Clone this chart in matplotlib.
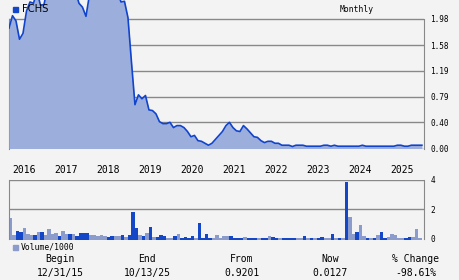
import numpy as np
import matplotlib.pyplot as plt
from matplotlib.transforms import blended_transform_factory

# monthly closes, Dec 2015 .. Oct 2025 (values above ~2.27 are off the chart)
price = [1.84, 2.03, 1.95, 1.67, 1.76, 2.10, 2.24, 2.22, 2.40, 2.19, 2.20, 2.45,
         2.60, 2.80, 2.70, 2.90, 2.80, 2.60, 2.50, 2.40, 2.22, 2.16, 2.02, 2.35,
         2.60, 2.90, 3.00, 2.80, 2.70, 2.60, 2.50, 2.40, 2.24, 2.25, 2.00, 1.32,
         0.67, 0.82, 0.76, 0.81, 0.59, 0.58, 0.53, 0.41, 0.38, 0.38, 0.40, 0.32,
         0.35, 0.35, 0.32, 0.26, 0.18, 0.20, 0.12, 0.11, 0.08, 0.05, 0.08, 0.14,
         0.20, 0.26, 0.35, 0.40, 0.32, 0.27, 0.26, 0.35, 0.30, 0.24, 0.18, 0.17,
         0.12, 0.09, 0.11, 0.11, 0.08, 0.08, 0.05, 0.05, 0.05, 0.03, 0.05, 0.05,
         0.05, 0.035, 0.035, 0.035, 0.035, 0.035, 0.05, 0.05, 0.035, 0.05, 0.035, 0.035,
         0.035, 0.035, 0.035, 0.035, 0.035, 0.05, 0.035, 0.035, 0.035, 0.035, 0.035, 0.035,
         0.035, 0.035, 0.035, 0.05, 0.05, 0.035, 0.035, 0.05, 0.05, 0.05, 0.05]

# volume / 1000 and whether the bar is dark (B) or light (L)
volume = [1.41, 0.23, 0.50, 0.45, 0.72, 0.31, 0.23, 0.27, 0.41, 0.41, 0.27, 0.64,
          0.32, 0.36, 0.18, 0.50, 0.30, 0.30, 0.30, 0.18, 0.35, 0.35, 0.35, 0.23,
          0.23, 0.18, 0.23, 0.14, 0.10, 0.16, 0.16, 0.16, 0.23, 0.10, 0.23, 1.80,
          0.70, 0.23, 0.16, 0.36, 0.77, 0.10, 0.10, 0.23, 0.16, 0.05, 0.05, 0.16,
          0.30, 0.02, 0.10, 0.02, 0.16, 0.05, 1.05, 0.02, 0.30, 0.03, 0.03, 0.23,
          0.03, 0.16, 0.16, 0.16, 0.05, 0.05, 0.05, 0.10, 0.05, 0.05, 0.05, 0.05,
          0.05, 0.05, 0.16, 0.10, 0.02, 0.03, 0.05, 0.05, 0.05, 0.05, 0.05, 0.05,
          0.16, 0.05, 0.02, 0.05, 0.05, 0.10, 0.03, 0.03, 0.30, 0.05, 0.02, 0.05,
          3.86, 1.45, 0.30, 0.41, 0.90, 0.16, 0.03, 0.05, 0.03, 0.23, 0.41, 0.02,
          0.10, 0.30, 0.23, 0.03, 0.03, 0.05, 0.10, 0.10, 0.65, 0.05]
vol_kind = ("LLBBLLLBLBLL" "LLBLLBLBBBBL" "LLLLBBLLBLBB" "BLBLBLBBBLLB"
            "LBBBBLBBBBLL" "LLLBBBBLBBBL" "BBLBBLBBBBLL" "BLBLBBLLBLBL"
            "BLLBLLBLBLBB" "LLLLLBBLLL")

price_ticks = [0.00, 0.40, 0.79, 1.19, 1.58, 1.98]
vol_ticks = [0, 2, 4]
years = ['2016', '2017', '2018', '2019', '2020', '2021', '2022', '2023', '2024', '2025']
stat_names = ['Begin', 'End', 'From', 'Now', '% Change']
stat_values = ['12/31/15', '10/13/25', '0.9201', '0.0127', '-98.61%']

W, H = 460, 280
bg = '#f3f3f3'
grid = '#888888'
dark = '#1446c8'
light = '#8a9bcc'
mono = 'DejaVu Sans Mono'

fig = plt.figure(figsize=(W / 100, H / 100), dpi=100)
fig.patch.set_facecolor(bg)

def fx(x):
    return x / W

def fy(y):
    return 1 - y / H

# price panel
ax = fig.add_axes([fx(9), fy(148.5), fx(415), 148.5 / H])
ax.set_facecolor('none')
m = np.arange(len(price))
for v in price_ticks:
    ax.axhline(v, color=grid, lw=1, zorder=0)
ax.fill_between(m, price, color='#9caedc', lw=0, zorder=1)
ax.plot(m, price, color='#1144cc', lw=1.2, zorder=2)
ax.set_xlim(0, 118.6)
ax.set_ylim(0, 2.27)
for s in ['top', 'bottom']:
    ax.spines[s].set_visible(False)
for s in ['left', 'right']:
    ax.spines[s].set_bounds(0, 1.98)
    ax.spines[s].set_color(grid)
    ax.spines[s].set_zorder(0)
ax.set_xticks([])
ax.yaxis.tick_right()
ax.set_yticks(price_ticks)
ax.set_yticklabels(['%.2f' % v for v in price_ticks], family=mono, fontsize=5.6)
ax.tick_params(axis='y', length=0, pad=4.5)

# volume panel
ax2 = fig.add_axes([fx(9), fy(240), fx(415), 60.3 / H])
ax2.set_facecolor('none')
vm = np.arange(len(volume))
for v in vol_ticks[1:]:
    ax2.axhline(v, color=grid, lw=1, zorder=0)
cols = [dark if k == 'B' else light for k in vol_kind]
ax2.bar(vm, np.array(volume) + 0.1, bottom=-0.1, width=1, align='edge',
        color=cols, lw=0, zorder=2)
ax2.set_xlim(0, 118.6)
ax2.set_ylim(-0.1, 4)
for s in ['top', 'bottom']:
    ax2.spines[s].set_visible(False)
for s in ['left', 'right']:
    ax2.spines[s].set_bounds(0, 4)
    ax2.spines[s].set_color(grid)
ax2.set_xticks([])
ax2.yaxis.tick_right()
ax2.set_yticks(vol_ticks)
ax2.set_yticklabels([str(v) for v in vol_ticks], family=mono, fontsize=5.6)
ax2.tick_params(axis='y', length=0, pad=4.5)

# year labels, left-aligned at start of each year
yr_trans = blended_transform_factory(ax2.transData, fig.transFigure)
for k, yr in enumerate(years):
    ax2.text(12 * k + 0.9, fy(170), yr, transform=yr_trans,
             ha='left', va='center', family=mono, fontsize=7)

# legends / headers
fig.patches.append(plt.Rectangle((fx(13), fy(12)), fx(5), 5 / H, color=dark,
                                 transform=fig.transFigure, figure=fig))
fig.text(fx(22), fy(9.5), 'FCHS', fontsize=7.2, va='center', ha='left')
fig.text(fx(357), fy(9), 'Monthly', family=mono, fontsize=5.8, va='center', ha='center')
fig.patches.append(plt.Rectangle((fx(13), fy(250)), fx(5), 5 / H, color=light,
                                 transform=fig.transFigure, figure=fig))
fig.text(fx(20.5), fy(247.5), 'Volume/1000', family=mono, fontsize=5.8,
         va='center', ha='left')

# bottom stats
stat_x = [60, 147, 242, 330, 416]
for x, n, v in zip(stat_x, stat_names, stat_values):
    fig.text(fx(x), fy(259), n, family=mono, fontsize=7, ha='center', va='center')
    fig.text(fx(x), fy(273), v, family=mono, fontsize=7, ha='center', va='center')

fig.savefig('out.png', dpi=100, facecolor=bg)
